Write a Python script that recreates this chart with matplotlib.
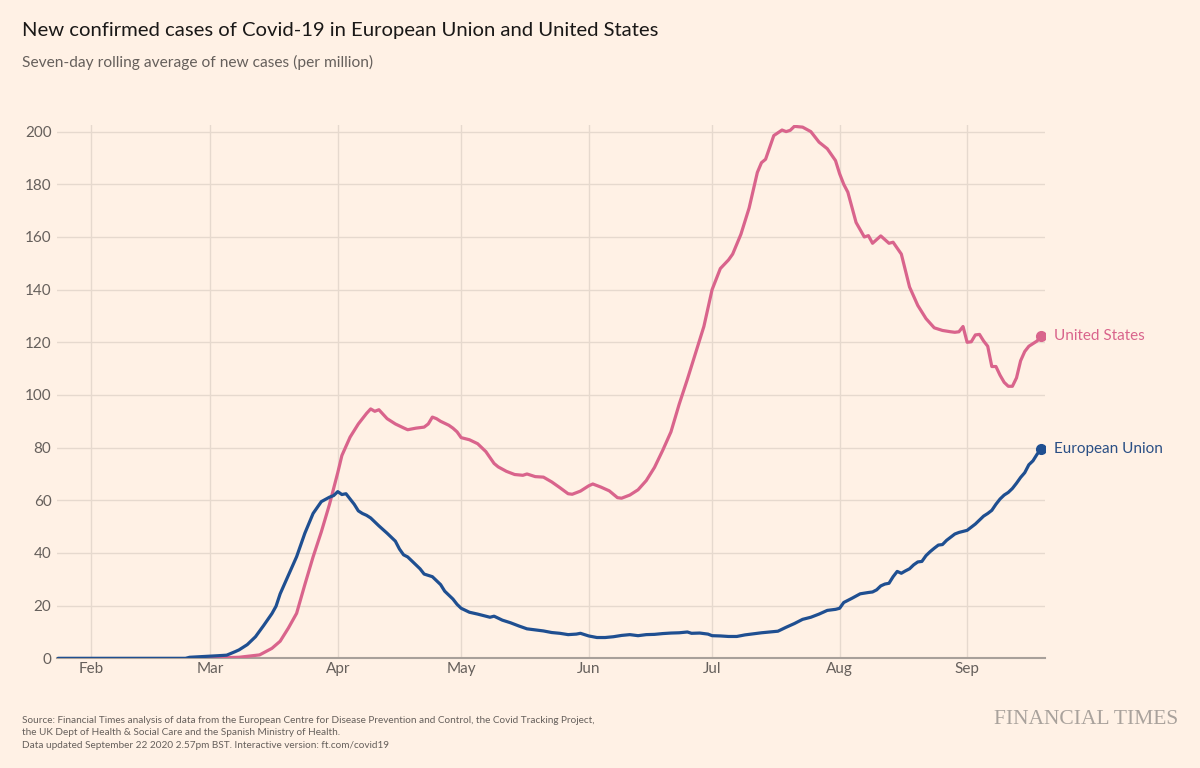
import matplotlib
matplotlib.use("Agg")
import matplotlib.pyplot as plt
import pandas as pd

# %%
# data (7-day rolling avg of new cases per million)
us_dates = [
    "2020-02-27", "2020-03-03", "2020-03-08", "2020-03-13", "2020-03-16", "2020-03-18",
    "2020-03-20", "2020-03-22", "2020-03-24", "2020-03-26", "2020-03-28", "2020-03-30",
    "2020-04-01", "2020-04-02", "2020-04-04", "2020-04-06", "2020-04-08", "2020-04-09",
    "2020-04-10", "2020-04-11", "2020-04-13", "2020-04-15", "2020-04-17", "2020-04-18",
    "2020-04-20", "2020-04-22", "2020-04-23", "2020-04-24", "2020-04-25", "2020-04-26",
    "2020-04-28", "2020-04-29", "2020-04-30", "2020-05-01", "2020-05-03", "2020-05-05",
    "2020-05-07", "2020-05-09", "2020-05-10", "2020-05-12", "2020-05-14", "2020-05-16",
    "2020-05-17", "2020-05-19", "2020-05-21", "2020-05-23", "2020-05-25", "2020-05-27",
    "2020-05-28", "2020-05-30", "2020-06-01", "2020-06-02", "2020-06-04", "2020-06-06",
    "2020-06-08", "2020-06-09", "2020-06-11", "2020-06-13", "2020-06-15", "2020-06-17",
    "2020-06-19", "2020-06-21", "2020-06-23", "2020-06-25", "2020-06-27", "2020-06-29",
    "2020-07-01", "2020-07-03", "2020-07-05", "2020-07-06", "2020-07-08", "2020-07-10",
    "2020-07-12", "2020-07-13", "2020-07-14", "2020-07-16", "2020-07-18", "2020-07-19",
    "2020-07-20", "2020-07-21", "2020-07-23", "2020-07-25", "2020-07-27", "2020-07-29",
    "2020-07-31", "2020-08-01", "2020-08-02", "2020-08-03", "2020-08-05", "2020-08-07",
    "2020-08-08", "2020-08-09", "2020-08-11", "2020-08-13", "2020-08-14", "2020-08-16",
    "2020-08-18", "2020-08-20", "2020-08-22", "2020-08-24", "2020-08-26", "2020-08-28",
    "2020-08-29", "2020-08-30", "2020-08-31", "2020-09-01", "2020-09-02", "2020-09-03",
    "2020-09-04", "2020-09-05", "2020-09-06", "2020-09-07", "2020-09-08", "2020-09-09",
    "2020-09-10", "2020-09-11", "2020-09-12", "2020-09-13", "2020-09-14", "2020-09-15",
    "2020-09-16", "2020-09-17", "2020-09-18", "2020-09-19",
]
us_values = [
    0.0, 0.2, 0.4, 1.3, 3.8, 6.5,
    11.5, 17.1, 28, 38.5, 48, 58.5,
    70.5, 77, 84, 89, 93, 94.7,
    93.8, 94.4, 91, 89, 87.5, 86.8,
    87.4, 87.8, 89, 91.6, 91, 90,
    88.5, 87.4, 86, 83.8, 83, 81.5,
    78.5, 74, 72.7, 71, 69.8, 69.5,
    70, 69, 68.8, 67, 64.8, 62.5,
    62.3, 63.5, 65.5, 66.2, 65, 63.6,
    61, 60.8, 62, 64, 67.5, 72.5,
    79, 86, 96.5, 106, 116, 126,
    140, 148, 151.3, 153.5, 161, 171,
    184.5, 188.2, 189.5, 198.5, 200.6, 200,
    200.5, 202, 201.7, 200, 196, 193.5,
    189, 184, 180, 177, 165.5, 160,
    160.5, 157.6, 160.4, 157.6, 158, 153.5,
    141, 134, 129, 125.5, 124.5, 124,
    123.8, 124, 126, 120, 120.2, 122.8,
    123, 120.5, 118.5, 110.8, 110.8, 107.5,
    104.8, 103.3, 103.3, 106.5, 113, 116.5,
    118.5, 119.5, 120.5, 122.5,
]

eu_dates = [
    "2020-01-24", "2020-02-24", "2020-02-25", "2020-03-01", "2020-03-03", "2020-03-05",
    "2020-03-07", "2020-03-08", "2020-03-10", "2020-03-12", "2020-03-14", "2020-03-16",
    "2020-03-17", "2020-03-18", "2020-03-20", "2020-03-22", "2020-03-24", "2020-03-26",
    "2020-03-28", "2020-03-30", "2020-03-31", "2020-04-01", "2020-04-02", "2020-04-03",
    "2020-04-04", "2020-04-05", "2020-04-06", "2020-04-07", "2020-04-08", "2020-04-09",
    "2020-04-11", "2020-04-13", "2020-04-15", "2020-04-16", "2020-04-17", "2020-04-18",
    "2020-04-19", "2020-04-21", "2020-04-22", "2020-04-23", "2020-04-24", "2020-04-25",
    "2020-04-26", "2020-04-27", "2020-04-29", "2020-04-30", "2020-05-01", "2020-05-03",
    "2020-05-05", "2020-05-07", "2020-05-08", "2020-05-09", "2020-05-11", "2020-05-13",
    "2020-05-15", "2020-05-17", "2020-05-19", "2020-05-21", "2020-05-23", "2020-05-25",
    "2020-05-27", "2020-05-29", "2020-05-30", "2020-06-01", "2020-06-03", "2020-06-05",
    "2020-06-07", "2020-06-09", "2020-06-11", "2020-06-13", "2020-06-15", "2020-06-17",
    "2020-06-19", "2020-06-21", "2020-06-23", "2020-06-25", "2020-06-26", "2020-06-28",
    "2020-06-30", "2020-07-01", "2020-07-03", "2020-07-05", "2020-07-07", "2020-07-09",
    "2020-07-11", "2020-07-13", "2020-07-15", "2020-07-17", "2020-07-19", "2020-07-21",
    "2020-07-23", "2020-07-25", "2020-07-27", "2020-07-29", "2020-07-31", "2020-08-01",
    "2020-08-02", "2020-08-04", "2020-08-06", "2020-08-08", "2020-08-09", "2020-08-10",
    "2020-08-11", "2020-08-12", "2020-08-13", "2020-08-14", "2020-08-15", "2020-08-16",
    "2020-08-17", "2020-08-18", "2020-08-19", "2020-08-20", "2020-08-21", "2020-08-22",
    "2020-08-23", "2020-08-24", "2020-08-25", "2020-08-26", "2020-08-27", "2020-08-28",
    "2020-08-29", "2020-08-30", "2020-08-31", "2020-09-01", "2020-09-02", "2020-09-03",
    "2020-09-04", "2020-09-05", "2020-09-06", "2020-09-07", "2020-09-08", "2020-09-09",
    "2020-09-10", "2020-09-11", "2020-09-12", "2020-09-13", "2020-09-14", "2020-09-15",
    "2020-09-16", "2020-09-17", "2020-09-18", "2020-09-19",
]
eu_values = [
    0.0, 0.0, 0.4, 0.8, 1.0, 1.2,
    2.5, 3.2, 5.2, 8.2, 12.5, 17,
    19.8, 24.5, 31.5, 38.6, 47.5, 55,
    59.5, 61.2, 61.8, 63.3, 62.2, 62.5,
    60.5, 58.5, 56, 55, 54.3, 53.3,
    50.3, 47.5, 44.5, 41.5, 39.3, 38.5,
    37, 34, 32, 31.5, 31, 29.5,
    28, 25.5, 22.5, 20.5, 19, 17.5,
    16.8, 16, 15.6, 16, 14.5, 13.5,
    12.3, 11.2, 10.8, 10.4, 9.8, 9.5,
    9, 9.2, 9.5, 8.5, 7.9, 7.9,
    8.2, 8.7, 9, 8.6, 9, 9.1,
    9.4, 9.6, 9.7, 10, 9.5, 9.6,
    9.2, 8.6, 8.5, 8.3, 8.3, 8.9,
    9.3, 9.7, 10, 10.3, 11.8, 13.2,
    14.8, 15.6, 16.8, 18.2, 18.6, 19,
    21.2, 22.8, 24.5, 25, 25.2, 26,
    27.5, 28.2, 28.5, 31, 33, 32.3,
    33.2, 34, 35.5, 36.6, 36.8, 39,
    40.5, 41.8, 43, 43.2, 44.8, 46,
    47.2, 47.8, 48.2, 48.6, 49.8, 51,
    52.5, 54, 55, 56.2, 58.5, 60.5,
    62, 63, 64.5, 66.5, 68.7, 70.5,
    73.5, 75, 77.5, 79.5,
]

y_ticks = [0, 20, 40, 60, 80, 100, 120, 140, 160, 180, 200]
month_starts = ["2020-02-01", "2020-03-01", "2020-04-01", "2020-05-01",
                "2020-06-01", "2020-07-01", "2020-08-01", "2020-09-01"]
month_labels = ["Feb", "Mar", "Apr", "May", "Jun", "Jul", "Aug", "Sep"]

# %%
BG = "#FFF1E5"
PINK = "#D9648C"
BLUE = "#1F4F91"
GREY = "#66605C"
GRID = "#E6D9CE"

plt.rcParams["font.family"] = ["Lato", "DejaVu Sans"]

us_x = pd.to_datetime(us_dates)
eu_x = pd.to_datetime(eu_dates)

fig = plt.figure(figsize=(12, 7.68), dpi=100, facecolor=BG)
ax = fig.add_axes([0.0475, 0.1428, 0.8233, 0.6944], facecolor=BG)

ax.plot(us_x, us_values, color=PINK, lw=2.3, solid_capstyle="round", zorder=3)
ax.plot(eu_x, eu_values, color=BLUE, lw=2.3, solid_capstyle="round", zorder=4)
ax.plot(us_x[-1], us_values[-1], "o", color=PINK, ms=7, zorder=5)
ax.plot(eu_x[-1], eu_values[-1], "o", color=BLUE, ms=7, zorder=5)

ax.annotate("United States", (us_x[-1], us_values[-1]), xytext=(9, 0),
            textcoords="offset points", va="center", ha="left",
            color=PINK, fontsize=11, annotation_clip=False)
ax.annotate("European Union", (eu_x[-1], eu_values[-1]), xytext=(9, 0),
            textcoords="offset points", va="center", ha="left",
            color="#2A4F85", fontsize=11, annotation_clip=False)

ax.set_xlim(pd.Timestamp("2020-01-23 18:00"), pd.Timestamp("2020-09-19 22:00"))
ax.set_ylim(0, 202.5)

ax.set_yticks(y_ticks)
ax.set_xticks(pd.to_datetime(month_starts))
ax.set_xticklabels(month_labels)
ax.grid(True, color=GRID, lw=1, zorder=0)
ax.set_axisbelow(True)
ax.tick_params(axis="both", length=0, colors=GREY, labelsize=11)
ax.tick_params(axis="y", pad=4)
ax.tick_params(axis="x", pad=3)

for side in ["top", "right", "left"]:
    ax.spines[side].set_visible(False)
ax.spines["bottom"].set_color("#A8A09A")
ax.spines["bottom"].set_linewidth(1.5)
ax.spines["bottom"].set_zorder(2)

fig.text(0.018, 0.960, "New confirmed cases of Covid-19 in European Union and United States",
         fontsize=14.6, color="#1A1817", va="center", ha="left")
fig.text(0.018, 0.919, "Seven-day rolling average of new cases (per million)",
         fontsize=11.2, color=GREY, va="center", ha="left")

fig.text(0.018, 0.046,
         "Source: Financial Times analysis of data from the European Centre for Disease Prevention and Control, the Covid Tracking Project,\n"
         "the UK Dept of Health & Social Care and the Spanish Ministry of Health.\n"
         "Data updated September 22 2020 2.57pm BST. Interactive version: ft.com/covid19",
         fontsize=7.2, color=GREY, va="center", ha="left", linespacing=1.5)
fig.text(0.982, 0.0635, "FINANCIAL TIMES", family="Liberation Serif",
         fontsize=15.5, color="#A9A29C", va="center", ha="right")

fig.savefig("out.png", dpi=100, facecolor=BG)
